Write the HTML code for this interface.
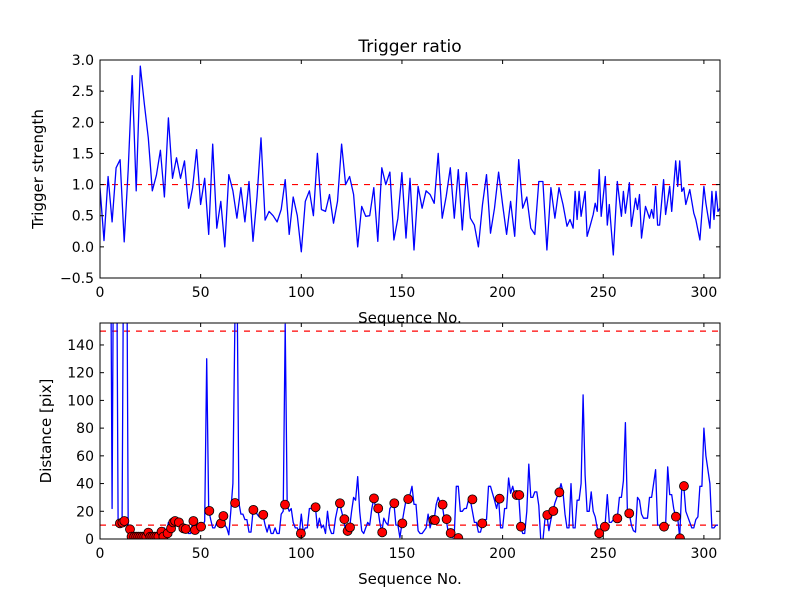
<!DOCTYPE html>
<html><head><meta charset="utf-8"><style>
body{margin:0;background:#fff;}
svg{display:block;font-family:"DejaVu Sans","Liberation Sans",sans-serif;}
</style></head><body>
<svg id="chart" width="800" height="600" viewBox="0 0 800 600">
<rect x="0" y="0" width="800" height="600" fill="#fff"/>
<defs>
<clipPath id="clipTop"><rect x="100" y="60" width="620" height="218"/></clipPath>
<clipPath id="clipBot"><rect x="100" y="323" width="620" height="216"/></clipPath>
</defs>
<g id="top"></g>
<g id="bot"></g>
</svg>
<script>
// ---- Top panel data (trigger strength) ----
const topValsA = [0.95,0.1,1.13,0.4,1.27,1.4,0.08,1.24,2.75,0.9,2.9,2.3,1.75,0.9,1.15,1.55,0.8,2.07,1.1,1.43,1.1,1.38,0.62,0.95,1.56,0.68,1.1,0.2,1.65,0.3,0.73,0.0,1.16,0.9,0.46,0.95,0.4,1.05,0.09,0.8,1.75,0.43,0.57,0.5,0.4,0.6,1.08,0.2,0.8,0.5,-0.08,0.73,0.9,0.5,1.5,0.6,0.57,0.84,0.38,0.73,1.65,1.0,1.13,0.84,0.0,0.65,0.49,0.5,0.95,0.09,1.27,1.0,1.2,0.11,0.46,1.19,0.14,1.1,-0.05,0.97,0.62,0.9,0.84,0.7,1.5,0.46,0.81,1.27,0.46,1.24,0.27,1.19,0.46,0.35,0.0,0.68,1.16,0.22,0.62,1.2,0.68,0.2,0.73,0.17,1.4,0.62,0.8,0.3,0.2,1.05,1.05,-0.05,0.95,0.46,0.95];
const topXB = [230,232,233.5,235,236,237,238,239,241,242,243.4,245,246,247,248,249,251,252,253,255,257,259,260,261,263,264,266,267,268,269,271,273,274,275,276,277,278,280,281,283,284,286,287,288,289,290,291,293,295,296,298,300,301,303,304,305,306,307,308];
const topValsB = [0.68,0.33,0.44,0.30,0.89,0.44,0.89,0.49,0.89,0.17,0.33,0.52,0.70,0.57,1.24,0.49,1.13,0.35,0.68,-0.13,1.05,0.49,0.89,0.54,1.03,0.33,0.78,0.6,0.84,0.14,0.65,0.46,0.6,0.46,0.97,0.35,0.35,1.08,0.52,0.97,0.57,1.38,0.97,1.38,0.89,0.95,0.68,0.92,0.54,0.44,0.11,0.97,0.70,0.30,0.89,0.44,0.89,0.57,0.62];
const topThreshold = 1.0;
const topYTicks = [-0.5,0.0,0.5,1.0,1.5,2.0,2.5,3.0];
const topYTickLabels = ["\u22120.5","0.0","0.5","1.0","1.5","2.0","2.5","3.0"];
const xTicks = [0,50,100,150,200,250,300];

// ---- Bottom panel data (distance) ----
const botVals = [300,300,300,300,300,300,22,300,300,12,12,14,300,300,7,7,1,1,2,1,1,3,1,2,5,1,3,1,2,1,3,1,8,4,12,5,8,11,12,13,12,8,6,8,4,4,12,6,9,5,10,9,13,130,21,14,8,8,12,10,15,17,10,8,3,20,40,157,200,26,18,18,14,14,5,5,20,22,18,16,16,17,10,5,10,4,4,8,4,4,18,20,155,24,20,22,12,8,8,4,18,5,8,8,22,22,24,23,8,15,8,10,4,20,8,4,4,15,22,26,20,14,6,6,8,20,30,28,45,20,6,4,8,12,10,22,29,22,22,12,5,15,12,10,22,24,26,10,10,1,11,20,28,29,32,38,25,25,6,4,4,6,8,18,8,14,14,25,30,26,25,15,14,5,4,1,4,38,38,20,20,22,22,28,28,20,12,12,5,5,11,14,14,38,38,33,28,22,29,8,8,22,22,44,33,38,32,32,32,9,4,4,20,54,30,30,34,34,24,-1,-1,14,17,6,14,20,26,30,34,40,34,18,8,8,40,8,8,28,28,40,104,46,20,20,34,20,16,8,4,6,9,12,32,12,12,14,14,15,30,30,42,84,20,18,10,6,5,30,28,18,15,15,15,30,30,40,50,10,10,10,9,9,52,32,32,22,16,15,1,38,38,20,16,12,8,8,14,16,38,38,80,60,50,40,8,8,10,10];
const markX = [9.9,11.1,12.1,14.9,15.7,17,18,19,20,21,22,23,24,25,26,27,28,29,30.6,31.5,33.6,35.3,36.4,37.3,39.2,41.4,42.6,46.4,47.2,50.2,54.3,60.1,61.3,67.1,76.2,81.1,91.9,99.8,107.1,119.2,121.4,123,124.2,136.1,138.2,140.2,146.2,150.2,153.1,165.6,166.4,170.2,172.2,174.2,178,185,189.9,198.5,207,208.3,209.1,222.2,225.2,228.2,248,250.8,257,262.9,280.2,286.1,288.1,290.1];
const markY = [11.3,11.8,13,7.0,1.7,1.7,1.7,1.7,1.7,1.7,1.7,1.7,4.6,1.7,1.7,1.7,1.7,1.7,5.3,1.7,4.1,7.7,12.0,13.0,12.0,7.7,7.2,13.0,6.5,8.9,20.3,11.3,16.6,26.0,21.0,17.5,24.8,4.0,22.9,25.8,14.3,5.8,8.4,29.3,22.1,4.8,25.8,11.3,28.8,13.8,13.6,24.8,14.3,4.3,0.7,28.6,11.3,29.1,31.7,31.7,8.9,17.3,20.2,33.7,4.1,8.9,14.9,18.5,8.9,16.1,0.5,38.2];
const botThresholds = [10,150];
const botYTicks = [0,20,40,60,80,100,120,140];

const NS = "http://www.w3.org/2000/svg";
function mk(tag, attrs, parent){const e=document.createElementNS(NS,tag);for(const k in attrs)e.setAttribute(k,attrs[k]);parent.appendChild(e);return e;}

const X0=100, X1=720, XMAX=308;
function sx(v){return X0+(v/XMAX)*(X1-X0);}
const T0=60,T1=278; function syT(v){return T1-(v+0.5)/3.5*(T1-T0);}
const B0=323,B1=539; function syB(v){return B1-v*1.386;}

function axes(g, yTop, yBot, yTicks, yLabels, syFn, prefix){
  const frame=mk('rect',{x:X0,y:yTop,width:X1-X0,height:yBot-yTop,fill:'none',stroke:'#000','stroke-width':1},g);
  
  
  xTicks.forEach(t=>{
    const x=sx(t);
    mk('line',{x1:x,x2:x,y1:yBot,y2:yBot-4,stroke:'#000'},g);
    mk('line',{x1:x,x2:x,y1:yTop,y2:yTop+4,stroke:'#000'},g);
    const tx=mk('text',{x:x,y:yBot+19,'text-anchor':'middle','font-size':14},g);
    tx.textContent=t;
    
    
  });
  yTicks.forEach((t,i)=>{
    const y=syFn(t);
    mk('line',{x1:X0,x2:X0+4,y1:y,y2:y,stroke:'#000'},g);
    mk('line',{x1:X1,x2:X1-4,y1:y,y2:y,stroke:'#000'},g);
    const tx=mk('text',{x:X0-6,y:y+5,'text-anchor':'end','font-size':14},g);
    tx.textContent=yLabels[i];
    
    
  });
}

// Top panel
const gt=document.getElementById('top');
const thr=mk('line',{x1:X0,x2:X1,y1:syT(topThreshold),y2:syT(topThreshold),stroke:'#f00','stroke-dasharray':'6,6','stroke-width':1.2},gt);


let pts=[];
topValsA.forEach((v,i)=>pts.push(sx(i*2).toFixed(1)+','+syT(v).toFixed(1)));
topValsB.forEach((v,i)=>pts.push(sx(topXB[i]).toFixed(1)+','+syT(v).toFixed(1)));
const tl=mk('polyline',{points:pts.join(' '),fill:'none',stroke:'#00f','stroke-width':1.3,'clip-path':'url(#clipTop)','stroke-linejoin':'round'},gt);


axes(gt,T0,T1,topYTicks,topYTickLabels,syT,'top');
const title=mk('text',{x:410,y:52,'text-anchor':'middle','font-size':17},gt);
title.textContent='Trigger ratio';


const xl1=mk('text',{x:410,y:323,'text-anchor':'middle','font-size':15},gt);
xl1.textContent='Sequence No.';


const yl1=mk('text',{x:0,y:0,'text-anchor':'middle','font-size':15,transform:'translate(43,169) rotate(-90)'},gt);
yl1.textContent='Trigger strength';



// Bottom panel
const gb=document.getElementById('bot');
botThresholds.forEach(t=>{
  const l=mk('line',{x1:X0,x2:X1,y1:syB(t),y2:syB(t),stroke:'#f00','stroke-dasharray':'6,6','stroke-width':1.2},gb);
  
  
});
pts=botVals.map((v,i)=>sx(i).toFixed(1)+','+syB(v).toFixed(1));
const bl=mk('polyline',{points:pts.join(' '),fill:'none',stroke:'#00f','stroke-width':1.3,'clip-path':'url(#clipBot)','stroke-linejoin':'round'},gb);


const mg=mk('g',{'clip-path':'url(#clipBot)'},gb);
markX.forEach((x,i)=>{
  const c=mk('circle',{cx:sx(x),cy:syB(markY[i]),r:4.5,fill:'#f00',stroke:'#000','stroke-width':0.8},mg);
  
  
});
axes(gb,B0,B1,botYTicks,botYTicks.map(String),syB,'bottom');
const xl2=mk('text',{x:410,y:584,'text-anchor':'middle','font-size':15},gb);
xl2.textContent='Sequence No.';


const yl2=mk('text',{x:0,y:0,'text-anchor':'middle','font-size':15,transform:'translate(51,431) rotate(-90)'},gb);
yl2.textContent='Distance [pix]';


</script>
</body></html>
